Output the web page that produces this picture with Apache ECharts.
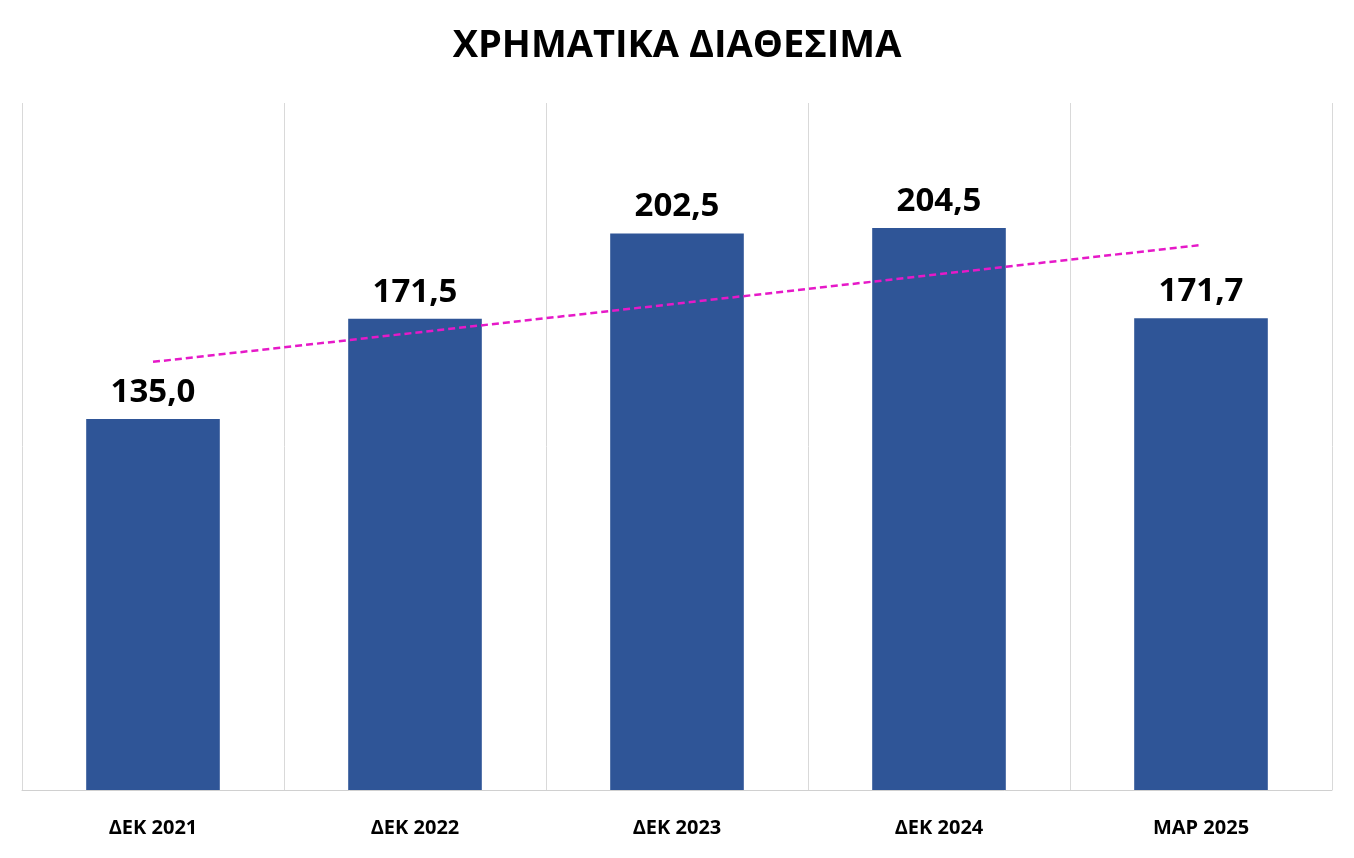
<!DOCTYPE html>
<html><head><meta charset="utf-8">
<script src="https://cdn.jsdelivr.net/npm/echarts@6/dist/echarts.min.js"></script>
<style>html,body{margin:0;padding:0;background:#fff}#c{width:1354px;height:858px}</style>
</head><body><div id="c"></div>
<script>
const categories = ['ΔΕΚ 2021','ΔΕΚ 2022','ΔΕΚ 2023','ΔΕΚ 2024','ΜΑΡ 2025'];
const values = [135.0, 171.5, 202.5, 204.5, 171.7];
const trend = [155.8, 166.4, 177.0, 187.7, 198.3];
const chart = echarts.init(document.getElementById('c'));
chart.setOption({
  animation:false,
  title:{text:'ΧΡΗΜΑΤΙΚΑ ΔΙΑΘΕΣΙΜΑ',left:'center',top:22,textStyle:{fontFamily:'Open Sans',fontWeight:'bold',fontSize:38,color:'#000',letterSpacing:3}},
  grid:{left:22,right:22,top:103,bottom:68},
  xAxis:{type:'category',data:categories,boundaryGap:true,
    axisLine:{lineStyle:{color:'#d0d0d0'}},axisTick:{show:false},
    splitLine:{show:true,lineStyle:{color:'#d9d9d9',width:1}},
    axisLabel:{fontFamily:'Open Sans',fontWeight:'bold',fontSize:20,color:'#000',margin:28,letterSpacing:2}},
  yAxis:{type:'value',min:0,max:250,show:false,splitLine:{show:false}},
  series:[
    {type:'bar',data:values,barWidth:'51%',itemStyle:{color:'#2F5597'},
     label:{show:true,position:'top',distance:10,fontFamily:'Open Sans',fontWeight:'bold',fontSize:33,color:'#000',
       formatter:p=>p.value.toFixed(1).replace('.',',')}},
    {type:'line',data:trend,symbol:'none',lineStyle:{color:'#E619C8',width:2.5,type:[7,4]},z:5}
  ]
});
</script></body></html>
